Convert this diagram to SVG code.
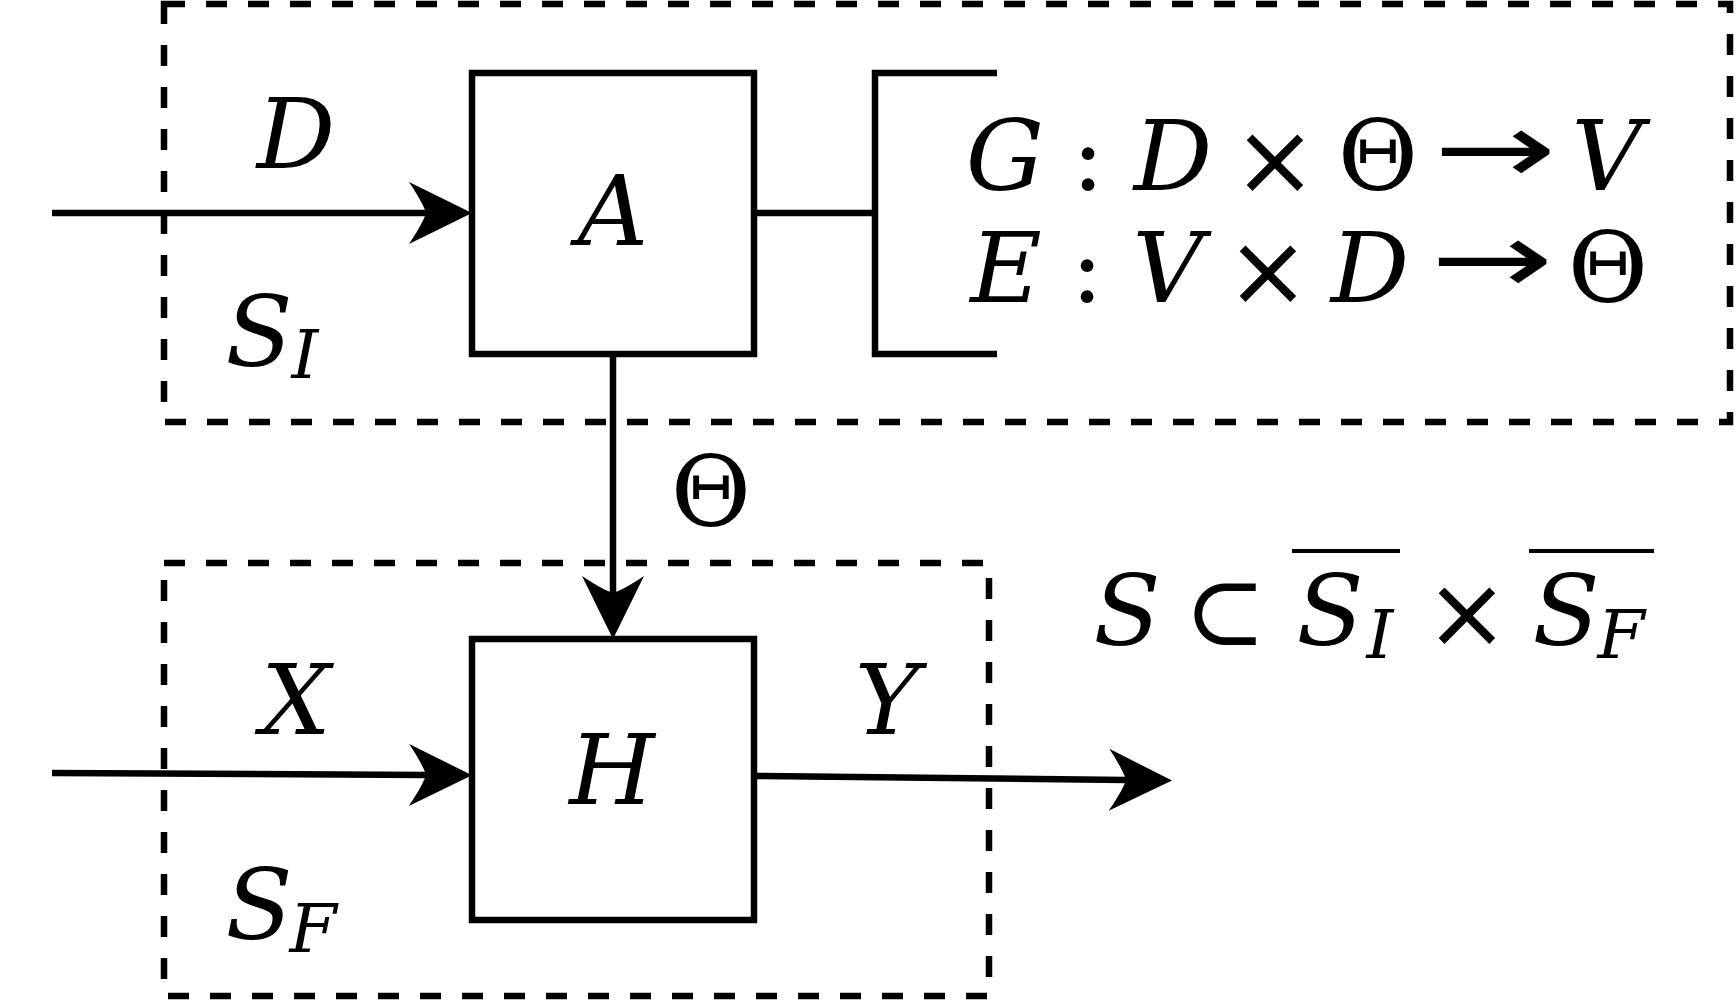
<svg xmlns="http://www.w3.org/2000/svg" width="1736" height="1001" viewBox="0 0 1736 1001">
<style>
.bg{fill:#fff}
.box{fill:#fff;stroke:#000;stroke-width:6.5}
.dash{fill:none;stroke:#000;stroke-width:6.5;stroke-dasharray:21 21}
.ln{fill:none;stroke:#000;stroke-width:6.5}
.m{font-family:"DejaVu Serif","Liberation Serif","Noto Serif",serif;font-style:italic;font-size:98px;fill:#000;text-anchor:middle}
.u{font-family:"DejaVu Serif","Liberation Serif","Noto Serif",serif;font-style:normal;font-size:98px;fill:#000;text-anchor:middle}
.s{font-family:"DejaVu Serif","Liberation Serif","Noto Serif",serif;font-style:italic;font-size:68px;fill:#000;text-anchor:middle}
.op{font-family:"DejaVu Sans","Noto Sans",sans-serif;font-style:normal;font-size:100px;fill:#000;text-anchor:middle}
</style>
<defs>
<marker id="ah" markerUnits="userSpaceOnUse" viewBox="-70 -36 80 72" refX="-46" refY="0" markerWidth="80" markerHeight="72" orient="auto">
<path d="M0,0 L-63,-31 Q-49,-10 -46,0 Q-49,10 -63,31 Z" fill="#000"/>
</marker>
</defs>
<rect class="bg" x="0" y="0" width="1736" height="1001"/>
<g id="region-SI">
<rect class="dash" x="164" y="4" width="1566" height="418"/>
<text class="m" x="259" y="366">S</text>
<text class="s" x="305" y="378">I</text>
</g>
<g id="region-SF">
<rect class="dash" x="164" y="563" width="825" height="433"/>
<text class="m" x="259" y="939">S</text>
<text class="s" x="313" y="952">F</text>
</g>
<g id="connectors">
<line class="ln" x1="52" y1="213" x2="426" y2="213" marker-end="url(#ah)"/>
<line class="ln" x1="613" y1="354" x2="613" y2="593" marker-end="url(#ah)"/>
<line class="ln" x1="52" y1="773" x2="426" y2="775" marker-end="url(#ah)"/>
<line class="ln" x1="754" y1="776" x2="1126" y2="780" marker-end="url(#ah)"/>
<line class="ln" x1="754" y1="213" x2="875" y2="213"/>
<text class="m" x="296" y="168">D</text>
<text class="u" x="711" y="526">Θ</text>
<text class="m" x="296" y="734">X</text>
<text class="m" x="887" y="734">Y</text>
</g>
<g id="node-A">
<rect class="box" x="472" y="73" width="282" height="281"/>
<text class="m" x="613" y="245">A</text>
</g>
<g id="node-H">
<rect class="box" x="472" y="639" width="282" height="281"/>
<text class="m" x="612" y="804">H</text>
</g>
<g id="node-equations">
<path class="ln" d="M997,73 H875 V354 H997"/>
<text class="m" x="1005" y="190">G</text>
<text class="u" x="1088" y="190">:</text>
<text class="m" x="1173" y="190">D</text>
<text class="op" x="1275" y="194">×</text>
<text class="u" x="1378" y="190">Θ</text>
<text class="op" transform="translate(1495,183) scale(1.47,1)" x="0" y="0">→</text>
<text class="m" x="1607" y="190">V</text>
<text class="m" x="1006" y="302">E</text>
<text class="u" x="1087" y="302">:</text>
<text class="m" x="1168" y="302">V</text>
<text class="op" x="1268" y="305">×</text>
<text class="m" x="1370" y="302">D</text>
<text class="op" transform="translate(1492,293) scale(1.47,1)" x="0" y="0">→</text>
<text class="u" x="1608" y="302">Θ</text>
</g>
<g id="node-relation">
<text class="m" x="1127" y="645">S</text>
<text class="u" x="1225" y="645">⊂</text>
<line x1="1292" y1="551" x2="1400" y2="551" stroke="#000" stroke-width="4"/>
<text class="m" x="1330" y="645">S</text>
<text class="s" x="1380" y="658">I</text>
<text class="op" x="1467" y="647">×</text>
<line x1="1529" y1="551" x2="1654" y2="551" stroke="#000" stroke-width="4"/>
<text class="m" x="1566" y="645">S</text>
<text class="s" x="1621" y="658">F</text>
</g>
</svg>
